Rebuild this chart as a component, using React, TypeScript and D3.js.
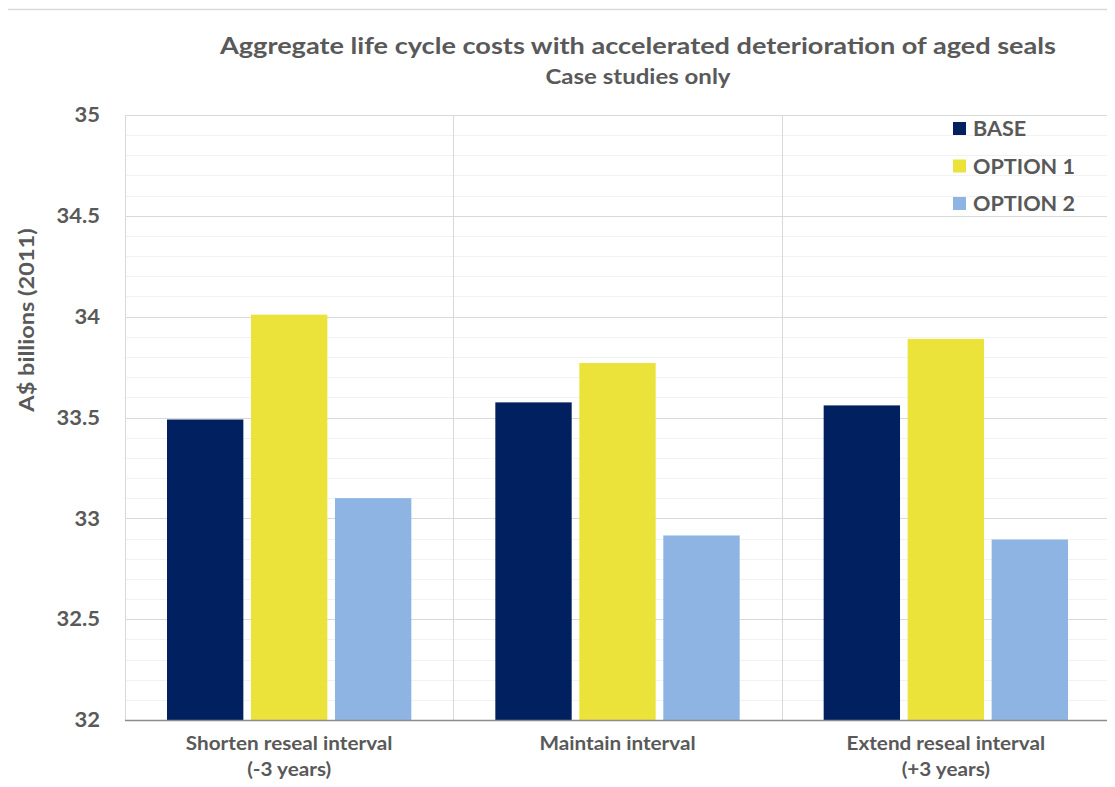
import React from "react";
import * as d3 from "d3";

const categories = [
  ["Shorten reseal interval", "(-3 years)"],
  ["Maintain interval"],
  ["Extend reseal interval", "(+3 years)"],
];
const seriesNames = ["BASE", "OPTION 1", "OPTION 2"];
const seriesColors = ["#00205F", "#EBE23A", "#8EB4E3"];
const baseValues = [33.49, 33.575, 33.56];
const option1Values = [34.01, 33.77, 33.89];
const option2Values = [33.1, 32.915, 32.895];
const yTicks = [32, 32.5, 33, 33.5, 34, 34.5, 35];

const W = 1115;
const H = 787;
const left = 125;
const right = 1110;
const top = 115;
const bottom = 720;
const FONT = "Lato, 'Open Sans', sans-serif";
const TEXT = "#595959";

function T(props: {
  x: number;
  y: number;
  size: number;
  sx: number;
  anchor?: string;
  rotate?: number;
  dy?: string;
  children: React.ReactNode;
}) {
  const { x, y, size, sx, anchor = "start", rotate = 0, dy, children } = props;
  return (
    <g transform={`translate(${x},${y}) rotate(${rotate}) scale(${sx},1)`}>
      <text x={0} y={0} dy={dy} textAnchor={anchor} fontFamily={FONT} fontWeight="bold" fontSize={size} fill={TEXT}>
        {children}
      </text>
    </g>
  );
}

export default function App() {
  const series = [baseValues, option1Values, option2Values];
  const x0 = d3
    .scaleBand<number>()
    .domain(categories.map((_, i) => i))
    .range([left, right])
    .paddingInner(0)
    .paddingOuter(0);
  const bw = x0.bandwidth();
  // Excel: gap width ~110%, overlap -10%
  const barW = bw / (3 + 0.2 + 1.1);
  const gap = barW * 0.1;
  const groupW = barW * 3 + gap * 2;
  const y = d3.scaleLinear().domain([32, 35]).range([bottom, top]);
  const minor = d3.range(32, 35.0001, 0.1).map((v) => Math.round(v * 10) / 10);

  return (
    <div style={{ margin: -8 }}>
      <svg width={W} height={H} style={{ display: "block", background: "#fff" }}>
        <rect x={5.5} y={9.5} width={W + 10} height={H + 10} fill="#fff" stroke="#d9d9d9" strokeWidth={1.5} />
        {minor.map((v) => (
          <line key={"m" + v} x1={left} x2={right} y1={Math.round(y(v)) + 0.5} y2={Math.round(y(v)) + 0.5} stroke="#f2f2f2" strokeWidth={1} />
        ))}
        {yTicks.map((v) => (
          <line key={"g" + v} x1={left} x2={right} y1={Math.round(y(v)) + 0.5} y2={Math.round(y(v)) + 0.5} stroke="#d9d9d9" strokeWidth={1} />
        ))}
        {[0, 1, 2, 3].map((i) => {
          const xx = i < 3 ? x0(i)! : right;
          return <line key={"v" + i} x1={Math.round(xx) + 0.5} x2={Math.round(xx) + 0.5} y1={top} y2={bottom} stroke="#d9d9d9" strokeWidth={1} />;
        })}
        {categories.map((_, ci) =>
          series.map((vals, si) => {
            const bx = x0(ci)! + (bw - groupW) / 2 + si * (barW + gap);
            return (
              <rect key={ci + "-" + si} x={bx} y={y(vals[ci])} width={barW} height={bottom - y(vals[ci])} fill={seriesColors[si]} />
            );
          })
        )}
        <line x1={left} x2={right} y1={bottom + 0.5} y2={bottom + 0.5} stroke="#8c8c8c" strokeWidth={1.5} />
        {yTicks.map((v) => (
          <T key={"t" + v} x={100} y={y(v)} dy="0.36em" anchor="end" size={20} sx={1.1}>
            {String(v)}
          </T>
        ))}
        <T x={34} y={320} rotate={-90} anchor="middle" size={20} sx={1.18}>
          A$ billions (2011)
        </T>
        {categories.map((lines, ci) =>
          lines.map((l, li) => (
            <T key={"c" + ci + li} x={x0(ci)! + bw / 2} y={750 + li * 26} anchor="middle" size={19} sx={1.09}>
              {l}
            </T>
          ))
        )}
        <T x={638} y={53.5} anchor="middle" size={23} sx={1.18}>
          Aggregate life cycle costs with accelerated deterioration of aged seals
        </T>
        <T x={638} y={84} anchor="middle" size={20} sx={1.2}>
          Case studies only
        </T>
        {seriesNames.map((n, i) => (
          <g key={n} transform={`translate(953,${129 + i * 37.5})`}>
            <rect x={0} y={-7} width={13} height={13} fill={seriesColors[i]} />
            <T x={20} y={0} dy="0.36em" size={20} sx={1.08}>
              {n}
            </T>
          </g>
        ))}
      </svg>
    </div>
  );
}
